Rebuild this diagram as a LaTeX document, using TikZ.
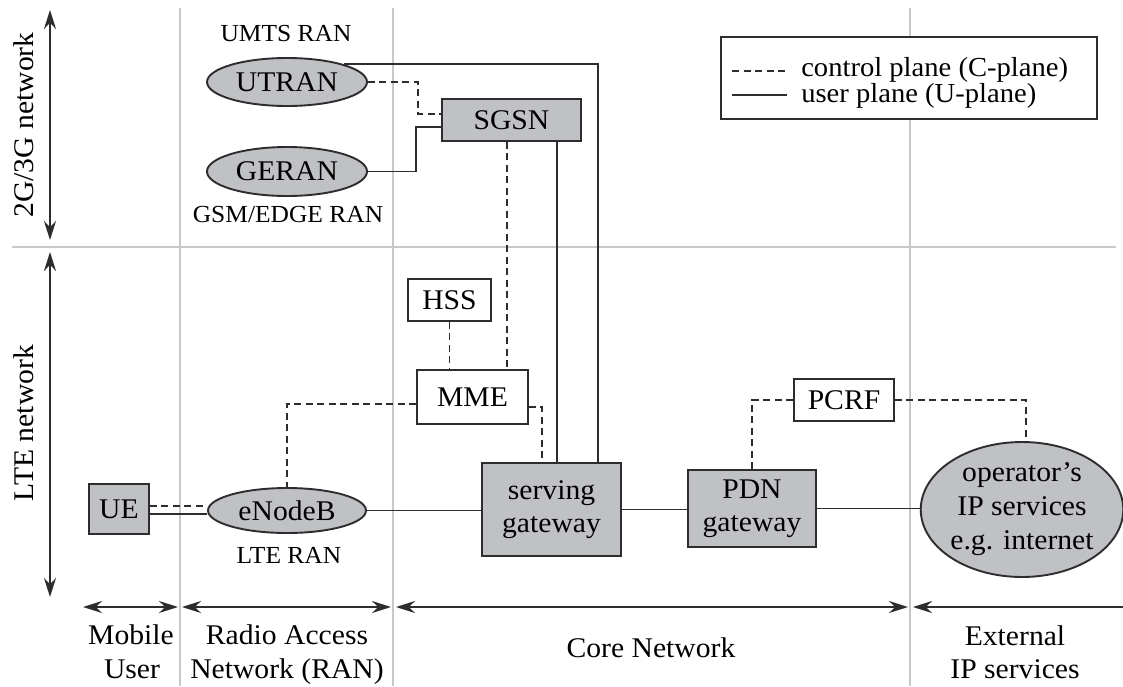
\documentclass[tikz,border=0pt]{standalone}
\usepackage{fontspec}
\setmainfont{Liberation Serif}[FakeStretch=1.04]
\usetikzlibrary{arrows.meta,calc,shapes.geometric}
\definecolor{boxgray}{RGB}{192,193,197}
\definecolor{gridgray}{RGB}{200,200,200}
\definecolor{ink}{RGB}{45,45,45}
\begin{document}
\begin{tikzpicture}[x=1pt,y=-1pt,
  grid/.style={draw=gridgray,line width=1.5pt},
  unode/.style={draw=ink,line width=1.9pt,fill=boxgray,inner sep=0pt,font=\fontsize{28.5}{33}\selectfont,align=center},
  wnode/.style={unode,fill=white},
  ell/.style={unode,ellipse},
  uplane/.style={draw=ink,line width=1.8pt},
  cplane/.style={draw=ink,line width=1.8pt,dash pattern=on 7pt off 4.5pt},
  span/.style={draw=ink,line width=1.9pt,{Stealth[length=19pt,width=12pt]}-{Stealth[length=19pt,width=12pt]}},
  lbl/.style={font=\fontsize{28.5}{33}\selectfont,inner sep=0pt},
  leglbl/.style={font=\fontsize{27.5}{30}\selectfont,inner sep=0pt,anchor=base west},
  sublbl/.style={font=\fontsize{24.5}{28}\selectfont,inner sep=0pt,anchor=base},
]
\useasboundingbox (0,0) rectangle (1123,686);
\fill[white] (0,0) rectangle (1123,686);

% grid
\draw[grid] (180,8) -- (180,686);
\draw[grid] (393,8) -- (393,686);
\draw[grid] (910,8) -- (910,686);
\draw[grid] (12,247) -- (1116,247);

% nodes
\node[ell,minimum width=160pt,minimum height=48pt] (utran) at (287,82) {UTRAN};
\node[ell,minimum width=160pt,minimum height=49pt] (geran) at (287,171.5) {GERAN};
\node[unode,minimum width=139pt,minimum height=42pt] (sgsn) at (511.5,120) {SGSN};
\node[wnode,minimum width=83pt,minimum height=42pt] (hss) at (449.5,300) {HSS};
\node[wnode,minimum width=111pt,minimum height=54pt] (mme) at (472.5,397) {MME};
\node[unode,minimum width=139pt,minimum height=93pt] (sgw) at (551.5,509.5) {serving\\gateway};
\node[unode,minimum width=128pt,minimum height=77pt] (pdn) at (752,508.5) {PDN\\gateway};
\node[wnode,minimum width=100pt,minimum height=42pt] (pcrf) at (844,400) {PCRF};
\node[ell,minimum width=198pt,minimum height=135pt,font=\fontsize{28.5}{34}\selectfont] (ops) at (1022,509.5) {operator’s\\IP services\\e.g. internet};
\node[ell,minimum width=158pt,minimum height=45pt] (enb) at (287,510.5) {eNodeB};
\node[unode,minimum width=60pt,minimum height=50pt] (ue) at (119,509) {UE};

% labels
\node[sublbl] (umts) at (286,41) {UMTS RAN};
\node[sublbl] (gsm) at (288,222) {GSM/EDGE RAN};
\node[sublbl] (lteran) at (289,563) {LTE RAN};
\node[lbl,rotate=90] (net2g) at (24,125) {2G/3G network};
\node[lbl,rotate=90] (netlte) at (24,423) {LTE network};

% helper coordinates
\coordinate (sgsnc) at ($(sgsn.south)+(-4.5,0)$);
\coordinate (sgsnu) at ($(sgsn.south)+(45.5,0)$);
\coordinate (uec) at ($(ue.east)+(0,-3)$);
\coordinate (ueu) at ($(ue.east)+(0,5)$);
\coordinate (sgwu) at ($(sgw.north)+(46.5,0)$);
\coordinate (sgwc) at ($(sgw.north)+(-9.5,0)$);
\coordinate (sgsnic) at ($(sgsn.west)+(0,-6)$);
\coordinate (sgsniu) at ($(sgsn.west)+(0,7)$);
\coordinate (mmel) at ($(mme.west)+(0,7)$);
\coordinate (mmer) at ($(mme.east)+(0,10)$);
\coordinate (opsn) at ($(ops.north)+(4,0)$);

% connectors 2G/3G
\draw[uplane] (utran.north east) -| (sgwu);
\draw[cplane] (utran.east) -| ($(sgsnic)+(-23,0)$) -- (sgsnic);
\draw[uplane] (geran.east) -| ($(sgsniu)+(-25,0)$) -- (sgsniu);
\draw[cplane] (sgsnc) -- (sgsnc |- mme.north);
\draw[uplane] (sgsnu) -- (sgsnu |- sgw.north);

% LTE connectors
\draw[cplane] (hss.south) -- (hss.south |- mme.north);
\draw[cplane] (mmel) -| (enb.north);
\draw[cplane] (mmer) -| (sgwc);
\draw[uplane] (enb.east) -- (enb.east -| sgw.west);
\draw[uplane] (sgw.east) -- (sgw.east -| pdn.west);
\draw[uplane] (pdn.east) -- (pdn.east -| ops.west);
\draw[cplane] (pcrf.west) -| (pdn.north);
\draw[cplane] (pcrf.east) -| (opsn);
\draw[cplane] (uec) -- (uec -| enb.west);
\draw[uplane] (ueu) -- (ueu -| enb.west);

% legend
\node[draw=ink,line width=1.9pt,fill=white,minimum width=376pt,minimum height=82pt,inner sep=0pt] (legend) at (909,78) {};
\coordinate (lc1) at ($(legend.west)+(12,-7)$);
\coordinate (lc2) at ($(legend.west)+(67,-7)$);
\coordinate (lu1) at ($(legend.west)+(12,17)$);
\coordinate (lu2) at ($(legend.west)+(67,17)$);
\draw[cplane] (lc1) -- (lc2);
\draw[uplane] (lu1) -- (lu2);
\node[leglbl] (legc) at ($(legend.west)+(81,-1.5)$) {control plane (C-plane)};
\node[leglbl] (legu) at ($(legend.west)+(81,24.5)$) {user plane (U-plane)};

% side arrows
\coordinate (a1) at (50,10); \coordinate (a2) at (50,240);
\coordinate (a3) at (50,252); \coordinate (a4) at (50,597);
\draw[span] (a1) -- (a2);
\draw[span] (a3) -- (a4);

% bottom arrows
\coordinate (b1) at (83,607); \coordinate (b2) at (178,607);
\coordinate (b3) at (182,607); \coordinate (b4) at (391,607);
\coordinate (b5) at (396,607); \coordinate (b6) at (908,607);
\coordinate (b7) at (913,607); \coordinate (b8) at (1123,607);
\draw[span] (b1) -- (b2);
\draw[span] (b3) -- (b4);
\draw[span] (b5) -- (b6);
\draw[draw=ink,line width=1.9pt,{Stealth[length=19pt,width=12pt]}-] (b7) -- (b8);

% bottom labels
\node[lbl,anchor=base] (mob1) at (131,644) {Mobile};
\node[lbl,anchor=base] (mob2) at (132,678) {User};
\node[lbl,anchor=base] (ran1) at (287,644) {Radio Access};
\node[lbl,anchor=base] (ran2) at (287,678) {Network (RAN)};
\node[lbl,anchor=base] (core) at (651,657) {Core Network};
\node[lbl,anchor=base] (ext1) at (1015,645) {External};
\node[lbl,anchor=base] (ext2) at (1015,678) {IP services};
\end{tikzpicture}
\end{document}
